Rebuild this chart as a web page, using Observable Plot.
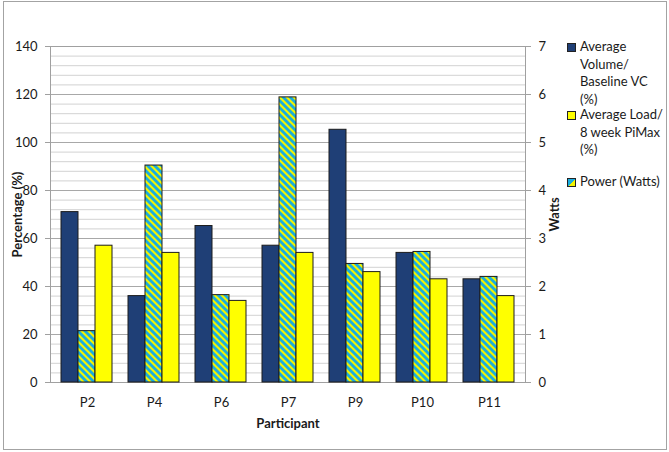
<!DOCTYPE html>
<html>
<head>
<meta charset="utf-8">
<script src="https://cdn.jsdelivr.net/npm/d3@7"></script>
<script src="https://cdn.jsdelivr.net/npm/@observablehq/plot@0.6"></script>
<style>
  body { margin: 0; background: #fff; }
  #wrap { position: relative; width: 669px; height: 452px; font-family: Lato, sans-serif; color: #1a1a1a; overflow: hidden; }
  #wrap svg { position: absolute; left: 0; top: 0; }
  #border { position: absolute; left: 3px; top: 1px; width: 664px; height: 449px; border: 1.5px solid #a3a3a3; box-sizing: border-box; pointer-events: none; }
  .lg { position: absolute; left: 567px; font-size: 13px; line-height: 17.5px; }
  .lg .sw { position: absolute; left: 0; top: 4.5px; width: 7px; height: 7px; border: 1px solid #222; }
  .lg .tx { position: absolute; left: 13px; top: 0; white-space: pre; }
</style>
</head>
<body>
<div id="wrap"><div id="border"></div></div>
<script>
// ---- data ----
const participants = ["P2", "P4", "P6", "P7", "P9", "P10", "P11"];
const seriesKeys = ["volume", "power", "load"];           // bar order within a group
const legendOrder = ["volume", "load", "power"];
const seriesLabels = {
  volume: "Average\nVolume/\nBaseline VC\n(%)",
  load: "Average Load/\n8 week PiMax\n(%)",
  power: "Power (Watts)"
};
const volume = [71, 36, 65.2, 57, 105.3, 54, 43];   // % of baseline VC
const load   = [57, 54, 34, 54, 46, 43, 36];        // % of 8 week PiMax
const power  = [1.07, 4.52, 1.82, 5.94, 2.47, 2.72, 2.2]; // Watts (right axis)
const leftTicks  = [0, 20, 40, 60, 80, 100, 120, 140];
const rightTicks = [0, 1, 2, 3, 4, 5, 6, 7];
const leftMax = 140, rightMax = 7;
const ratio = leftMax / rightMax;

const navy = "#1f3f76", yellow = "#ffff00", cyan = "#19ade0", stripeYellow = "#f4f400";
const fills = { volume: navy, load: yellow, power: "url(#hatch)" };

const rows = [];
participants.forEach((p, i) => {
  rows.push({ participant: p, series: "volume", value: volume[i] });
  rows.push({ participant: p, series: "power", value: power[i] * ratio });
  rows.push({ participant: p, series: "load", value: load[i] });
});
const minorGrid = d3.range(0, leftMax + 1, 4);

const W = 669, H = 452;
const margins = { marginLeft: 50, marginRight: 144, marginTop: 46, marginBottom: 70 };
const font = { fontFamily: "Lato, sans-serif", fontSize: "13px", color: "#1a1a1a", background: "transparent", overflow: "visible" };

// ---- base: grid, axes, titles ----
const base = Plot.plot({
  width: W, height: H, ...margins, style: font,
  x: { domain: participants, paddingInner: 0.235, paddingOuter: 0.1176 },
  y: { domain: [0, leftMax] },
  marks: [
    Plot.ruleY(minorGrid, { stroke: "#d2d2d2", strokeWidth: 1 }),
    Plot.ruleY(leftTicks, { stroke: "#a8a8a8", strokeWidth: 1 }),
    Plot.frame({ stroke: "#a0a0a0" }),
    Plot.axisY({ anchor: "left", ticks: leftTicks, tickSize: 5, tickPadding: 8, label: null, stroke: "#a0a0a0", fill: "#1a1a1a" }),
    Plot.axisY({ anchor: "right", ticks: rightTicks.map(t => t * ratio), tickFormat: d => d / ratio, tickSize: 5, tickPadding: 8, label: null, stroke: "#a0a0a0", fill: "#1a1a1a" }),
    Plot.axisX({ anchor: "bottom", tickSize: 0, tickPadding: 15, label: null, fill: "#1a1a1a" }),
    Plot.text(["Percentage (%)"], { frameAnchor: "left", dx: -33, rotate: -90, textAnchor: "middle", lineAnchor: "middle", fontWeight: "bold", fontSize: 13, fill: "#1a1a1a" }),
    Plot.text(["Watts"], { frameAnchor: "right", dx: 29, rotate: -90, textAnchor: "middle", lineAnchor: "middle", fontWeight: "bold", fontSize: 13, fill: "#1a1a1a" }),
    Plot.text(["Participant"], { frameAnchor: "bottom", dy: 41.5, textAnchor: "middle", lineAnchor: "middle", fontWeight: "bold", fontSize: 13, fill: "#1a1a1a" })
  ]
});

// ---- bars (faceted by participant) ----
const bars = Plot.plot({
  width: W, height: H, ...margins, style: font,
  fx: { domain: participants, paddingInner: 0.235, paddingOuter: 0.1176, axis: null, label: null },
  x: { domain: seriesKeys, padding: 0, axis: null },
  y: { domain: [0, leftMax], axis: null },
  color: { type: "identity" },
  marks: [
    Plot.barY(rows, { fx: "participant", x: "series", y: "value", fill: d => fills[d.series], stroke: "#1c1c1c", strokeWidth: 1 })
  ]
});
d3.select(bars).insert("defs", ":first-child").html(
  `<pattern id="hatch" patternUnits="userSpaceOnUse" x="0" y="0" width="7" height="7">
     <rect width="7" height="7" fill="${cyan}"/>
     <polygon points="0,0 7,7 4,7 0,3" fill="${stripeYellow}"/>
     <polygon points="4,0 7,0 7,3" fill="${stripeYellow}"/>
   </pattern>`
);

const wrap = document.getElementById("wrap");
wrap.insertBefore(base, wrap.firstChild);
wrap.insertBefore(bars, document.getElementById("border"));

// ---- legend ----
const legendTops = { volume: 38, load: 106, power: 173 };
const swatch = {
  volume: `background:${navy}`,
  load: `background:${yellow}`,
  power: `background:linear-gradient(135deg, ${cyan} 50%, ${stripeYellow} 50%)`
};
legendOrder.forEach(k => {
  const div = document.createElement("div");
  div.className = "lg";
  div.style.top = legendTops[k] + "px";
  div.innerHTML = `<span class="sw" style="${swatch[k]}"></span><span class="tx"></span>`;
  div.querySelector(".tx").textContent = seriesLabels[k];
  wrap.appendChild(div);
});
</script>
</body>
</html>
